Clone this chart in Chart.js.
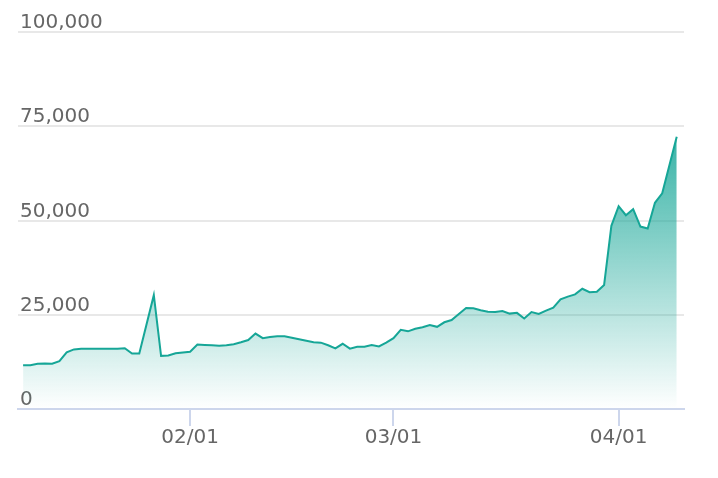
<!DOCTYPE html>
<html>
<head>
<meta charset="utf-8">
<script src="https://cdn.jsdelivr.net/npm/chart.js@4/dist/chart.umd.min.js"></script>
<style>
  html, body { margin: 0; padding: 0; background: #ffffff; }
  #wrap { width: 718px; height: 478px; }
</style>
</head>
<body>
<div id="wrap"><canvas id="c" width="718" height="478"></canvas></div>
<script>
// ---- data (2021) ----
const dates = [
  '2021-01-09','2021-01-10','2021-01-11','2021-01-12','2021-01-13','2021-01-14','2021-01-15','2021-01-16',
  '2021-01-17','2021-01-18','2021-01-19','2021-01-20','2021-01-21','2021-01-22','2021-01-23','2021-01-24',
  '2021-01-25','2021-01-27','2021-01-28','2021-01-29','2021-01-30',
  '2021-02-01','2021-02-02','2021-02-03','2021-02-04','2021-02-05','2021-02-06','2021-02-07','2021-02-08',
  '2021-02-09','2021-02-10','2021-02-11','2021-02-12','2021-02-13','2021-02-14','2021-02-15','2021-02-16',
  '2021-02-17','2021-02-18','2021-02-19','2021-02-20','2021-02-21','2021-02-22','2021-02-23','2021-02-24',
  '2021-02-25','2021-02-26','2021-02-27','2021-02-28',
  '2021-03-01','2021-03-02','2021-03-03','2021-03-04','2021-03-05','2021-03-06','2021-03-07','2021-03-08',
  '2021-03-09','2021-03-10','2021-03-11','2021-03-12','2021-03-13','2021-03-14','2021-03-15','2021-03-16',
  '2021-03-17','2021-03-18','2021-03-19','2021-03-20','2021-03-21','2021-03-22','2021-03-23','2021-03-24',
  '2021-03-25','2021-03-26','2021-03-27','2021-03-28','2021-03-29','2021-03-30','2021-03-31',
  '2021-04-01','2021-04-02','2021-04-03','2021-04-04','2021-04-05','2021-04-06','2021-04-07','2021-04-09'
];
const values = [
  11600,11600,12000,12100,12000,12700,15000,15800,
  16000,16000,16000,16000,16000,16000,16100,14700,
  14700,30200,14100,14200,14800,
  15200,17100,17000,16900,16800,16900,17200,17700,
  18300,20000,18800,19100,19300,19300,18900,18500,
  18100,17700,17600,16900,16100,17300,16000,16500,
  16500,17000,16600,17600,
  18800,21000,20600,21300,21700,22300,21800,23000,
  23600,25200,26800,26700,26200,25800,25700,26000,
  25300,25500,24000,25700,25200,26100,26900,29100,
  29800,30400,31900,31000,31100,32900,48600,
  53800,51400,53000,48400,47900,54700,57200,72200
];
const tickDates = ['2021-02-01','2021-03-01','2021-04-01'];
const yTicks = [0, 25000, 50000, 75000, 100000];

// ---- helpers ----
const DAY = 86400000;
const origin = Date.UTC(2021, 0, 9);
function dayOf(s) {
  const [y, m, d] = s.split('-').map(Number);
  return (Date.UTC(y, m - 1, d) - origin) / DAY;
}
function fmtTick(v) {
  const d = new Date(origin + v * DAY);
  const mm = String(d.getUTCMonth() + 1).padStart(2, '0');
  const dd = String(d.getUTCDate()).padStart(2, '0');
  return mm + '/' + dd;
}
const points = dates.map((d, i) => ({ x: dayOf(d), y: values[i] }));

const LINE = 'rgb(22,166,151)';
const FONT = { family: '"DejaVu Sans", sans-serif', size: 20 };
const TXT = '#666666';

new Chart(document.getElementById('c'), {
  type: 'line',
  data: {
    datasets: [{
      data: points,
      borderColor: LINE,
      borderWidth: 2,
      pointRadius: 0,
      tension: 0,
      fill: 'origin',
      backgroundColor: (ctx) => {
        const ch = ctx.chart;
        const area = ch.chartArea;
        if (!area) return 'rgba(22,166,151,0.3)';
        const ys = ch.scales.y;
        const top = ys.getPixelForValue(Math.max(...values));
        const g = ch.ctx.createLinearGradient(0, top, 0, area.bottom);
        g.addColorStop(0, 'rgba(22,166,151,0.85)');
        g.addColorStop(1, 'rgba(22,166,151,0.0)');
        return g;
      }
    }]
  },
  options: {
    responsive: false,
    animation: false,
    layout: { padding: { left: 14, right: 34, top: 32, bottom: 28 } },
    plugins: { legend: { display: false }, tooltip: { enabled: false } },
    scales: {
      x: {
        type: 'linear',
        min: -0.7,
        max: 91,
        afterBuildTicks: (axis) => { axis.ticks = tickDates.map(d => ({ value: dayOf(d) })); },
        ticks: {
          callback: (v) => fmtTick(v),
          font: FONT,
          color: TXT,
          padding: 0,
          maxRotation: 0,
          autoSkip: false
        },
        grid: {
          drawOnChartArea: false,
          drawTicks: true,
          tickLength: 17,
          color: '#cdd6ec',
          lineWidth: 2
        },
        border: { display: true, color: '#cdd6ec', width: 2 }
      },
      y: {
        min: 0,
        max: 100000,
        afterBuildTicks: (axis) => { axis.ticks = yTicks.map(v => ({ value: v })); },
        ticks: {
          mirror: true,
          padding: 2,
          labelOffset: -9,
          font: FONT,
          color: TXT,
          callback: (v) => v.toLocaleString('en-US')
        },
        grid: {
          drawTicks: false,
          color: '#e8e8e8',
          lineWidth: 2
        },
        border: { display: false }
      }
    }
  }
});
</script>
</body>
</html>
